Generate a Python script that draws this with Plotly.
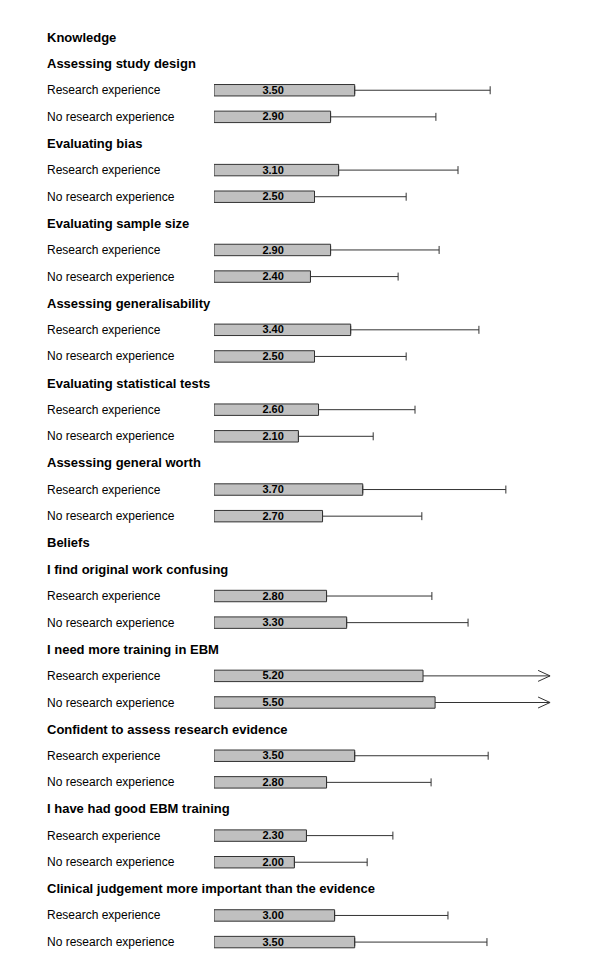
import plotly.graph_objects as go

# ---------------- data ----------------
sections = ["Knowledge", "Beliefs"]
knowledge_items = [
    "Assessing study design",
    "Evaluating bias",
    "Evaluating sample size",
    "Assessing generalisability",
    "Evaluating statistical tests",
    "Assessing general worth",
]
beliefs_items = [
    "I find original work confusing",
    "I need more training in EBM",
    "Confident to assess research evidence",
    "I have had good EBM training",
    "Clinical judgement more important than the evidence",
]
group_labels = ["Research experience", "No research experience"]

research_mean = [3.50, 3.10, 2.90, 3.40, 2.60, 3.70, 2.80, 5.20, 3.50, 2.30, 3.00]
research_sd = [3.37, 2.97, 2.70, 3.19, 2.40, 3.56, 2.62, 3.60, 3.32, 2.15, 2.82]
noresearch_mean = [2.90, 2.50, 2.40, 2.50, 2.10, 2.70, 3.30, 5.50, 2.80, 2.00, 3.50]
noresearch_sd = [2.62, 2.28, 2.18, 2.28, 1.86, 2.47, 3.02, 3.40, 2.60, 1.81, 3.29]

# display settings
XLIM = 8.36      # values beyond this are drawn as an arrow
XMAX = 8.51      # axis range end
LABEL_X = 1.47   # fixed x position of value labels
FONT = "Liberation Sans, Arial, sans-serif"

# ---------------- build rows ----------------
rows = []  # (kind, text, mean, sd)
idx = 0
for sec, items in zip(sections, [knowledge_items, beliefs_items]):
    rows.append(("section", sec, None, None))
    for it in items:
        rows.append(("header", it, None, None))
        rows.append(("group", group_labels[0], research_mean[idx], research_sd[idx]))
        rows.append(("group", group_labels[1], noresearch_mean[idx], noresearch_sd[idx]))
        idx += 1

OFF = 8           # page body margin
W = 600 - OFF
H = 971 - OFF
row_px = 26.62
top_px = 37 - OFF
px_per_unit = 40.2
bar_left = 214 - OFF
label_left = 45 - OFF

norm_y, norm_x, norm_e = [], [], []
clip_y, clip_x, clip_e = [], [], []
annotations = []
shapes = []
for i, (kind, text, m, s) in enumerate(rows):
    if kind in ("section", "header"):
        annotations.append(dict(x=label_left / W, xref="paper", y=i, yref="y", text=text,
                                showarrow=False, xanchor="left", yanchor="middle",
                                font=dict(family=FONT, size=13, color="#000", weight="bold")))
    else:
        annotations.append(dict(x=label_left / W, xref="paper", y=i, yref="y", text=text,
                                showarrow=False, xanchor="left", yanchor="middle",
                                font=dict(family=FONT, size=12, color="#000")))
        if m + s > XLIM:
            clip_y.append(i); clip_x.append(m); clip_e.append(XLIM - m)
            ah = 12 / px_per_unit
            av = 5.5 / row_px
            shapes.append(dict(type="path", xref="x", yref="y",
                               path=f"M {XLIM-ah},{i-av} L {XLIM},{i} L {XLIM-ah},{i+av}",
                               line=dict(color="#333", width=1)))
        else:
            norm_y.append(i); norm_x.append(m); norm_e.append(s)

bar_style = dict(marker=dict(color="#c0c0c0", line=dict(color="#333", width=1)),
                 orientation="h", width=0.43, showlegend=False, hoverinfo="x")

fig = go.Figure()
fig.add_trace(go.Bar(x=norm_x, y=norm_y,
                     error_x=dict(type="data", symmetric=False, array=norm_e,
                                  arrayminus=[0] * len(norm_e),
                                  color="#333", thickness=1, width=4),
                     **bar_style))
fig.add_trace(go.Bar(x=clip_x, y=clip_y,
                     error_x=dict(type="data", symmetric=False, array=clip_e,
                                  arrayminus=[0] * len(clip_e),
                                  color="#333", thickness=1, width=0),
                     **bar_style))

ys = norm_y + clip_y
ms = norm_x + clip_x
fig.add_trace(go.Scatter(x=[LABEL_X] * len(ys), y=[y + 0.03 for y in ys], mode="text",
                         text=[f"{v:.2f}" for v in ms],
                         textfont=dict(family=FONT, size=11, color="#000", weight="bold"),
                         showlegend=False, hoverinfo="skip"))

y_top = -top_px / row_px
y_bot = (H - top_px) / row_px
fig.update_layout(
    width=W, height=H,
    margin=dict(l=0, r=0, t=0, b=0),
    paper_bgcolor="white", plot_bgcolor="white",
    barmode="overlay",
    xaxis=dict(domain=[bar_left / W, (bar_left + XMAX * px_per_unit) / W], range=[0, XMAX],
               visible=False, fixedrange=True),
    yaxis=dict(range=[y_bot, y_top], visible=False, fixedrange=True),
    annotations=annotations,
    shapes=shapes,
)

fig.write_html("out.html")
